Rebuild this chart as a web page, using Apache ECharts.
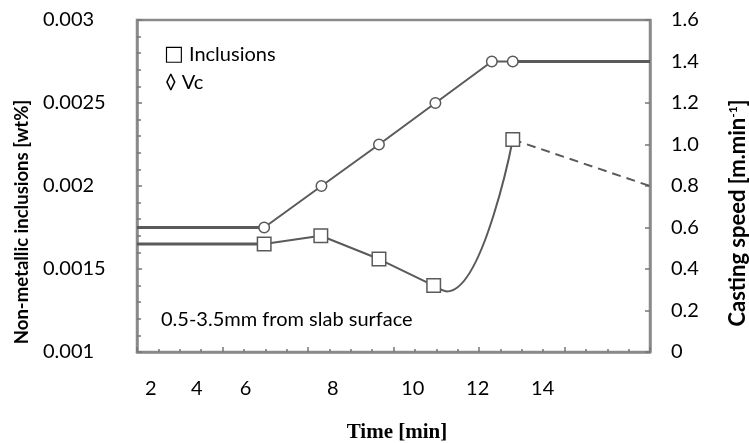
<!DOCTYPE html>
<html>
<head>
<meta charset="utf-8">
<script src="https://cdn.jsdelivr.net/npm/echarts@6/dist/echarts.min.js"></script>
<style>html,body{margin:0;padding:0;background:#fff;}#c{width:749px;height:443px;}</style>
</head>
<body>
<div id="c"></div>
<script>
// x positions are in axis units (one minor tick = 1 unit)
const xTickPos = [0.65, 2.8, 5.08, 9.16, 12.9, 15.94, 18.98];
const xTickLabels = ['2', '4', '6', '8', '10', '12', '14'];

const vcTime = [5.95, 8.63, 11.32, 13.96, 16.6, 17.58];
const vcValues = [0.6, 0.8, 1.0, 1.2, 1.4, 1.4];
const vcLeadIn = [[0, 0.6]];
const vcLeadOut = [[24, 1.4]];

const inclTime = [5.95, 8.6, 11.32, 13.88, 17.58];
const inclValues = [0.00165, 0.0017, 0.00156, 0.0014, 0.00228];
const inclLeadIn = [[0, 0.00165]];
const inclTrough = [[14.5, 0.001365]];
const inclDashedEnd = [[24, 0.002]];

const LINE = '#5a5a5a';
const AXIS = '#8a8a8a';
const FONT = 'Lato';

const inclPts = inclTime.map((t, i) => [t, inclValues[i]]);
const vcPts = vcTime.map((t, i) => [t, vcValues[i]]);

const chart = echarts.init(document.getElementById('c'));
chart.setOption({
  animation: false,
  backgroundColor: '#fff',
  grid: { left: 137, right: 99, top: 20, bottom: 91, show: true, borderColor: AXIS, borderWidth: 2.5 },
  xAxis: {
    type: 'value', min: 0, max: 24, interval: 4,
    axisLine: { show: true, lineStyle: { color: AXIS, width: 2.5 } },
    axisTick: { show: true, inside: true, length: 5, lineStyle: { color: '#777', width: 1.5 } },
    minorTick: { show: true, splitNumber: 4, length: 3, lineStyle: { color: '#777', width: 1.5 } },
    splitLine: { show: false },
    axisLabel: {
      show: true, customValues: xTickPos, margin: 27,
      fontFamily: FONT, fontSize: 20, color: '#000',
      formatter: function (v) {
        let best = 0;
        xTickPos.forEach((p, i) => { if (Math.abs(p - v) < Math.abs(xTickPos[best] - v)) best = i; });
        return xTickLabels[best];
      }
    }
  },
  yAxis: [
    {
      type: 'value', min: 0.001, max: 0.003, interval: 0.0005,
      axisLine: { show: true, lineStyle: { color: AXIS, width: 2.5 } },
      axisTick: { show: true, inside: true, length: 5, lineStyle: { color: '#777', width: 1.5 } },
      minorTick: { show: true, splitNumber: 5, length: 4, lineStyle: { color: '#777', width: 1.5 } },
      splitLine: { show: false },
      axisLabel: {
        align: 'left', margin: 94, fontFamily: FONT, fontSize: 20, color: '#000',
        formatter: v => String(parseFloat(v.toFixed(4)))
      }
    },
    {
      type: 'value', min: 0, max: 1.6, interval: 0.2, position: 'right',
      axisLine: { show: true, lineStyle: { color: AXIS, width: 2.5 } },
      axisTick: { show: true, inside: true, length: 5, lineStyle: { color: '#777', width: 1.5 } },
      splitLine: { show: false },
      axisLabel: {
        margin: 21, fontFamily: FONT, fontSize: 20, color: '#000',
        formatter: v => (v === 0 ? '0' : v.toFixed(1))
      }
    }
  ],
  series: [
    { type: 'line', yAxisIndex: 1, data: vcLeadIn.concat([vcPts[0]]), symbol: 'none',
      lineStyle: { color: LINE, width: 3 }, z: 2 },
    { type: 'line', yAxisIndex: 1, data: [vcPts[vcPts.length - 1]].concat(vcLeadOut), symbol: 'none',
      lineStyle: { color: LINE, width: 3 }, z: 2 },
    { name: 'Vc', type: 'line', yAxisIndex: 1, data: vcPts, symbol: 'circle', symbolSize: 10.5, showAllSymbol: true,
      lineStyle: { color: LINE, width: 2 }, itemStyle: { color: '#fff', borderColor: LINE, borderWidth: 1.5 }, z: 3 },
    { type: 'line', yAxisIndex: 0, data: inclLeadIn.concat([inclPts[0]]), symbol: 'none',
      lineStyle: { color: LINE, width: 3 }, z: 2 },
    { type: 'line', yAxisIndex: 0, data: [inclPts[3]].concat(inclTrough, [inclPts[4]]), symbol: 'none', smooth: 0.5,
      lineStyle: { color: LINE, width: 2 }, z: 2 },
    { type: 'line', yAxisIndex: 0, data: [inclPts[4]].concat(inclDashedEnd), symbol: 'none',
      lineStyle: { color: LINE, width: 2, type: [9, 6] }, z: 2 },
    { name: 'Inclusions', type: 'line', yAxisIndex: 0, data: inclPts.slice(0, 4), symbol: 'none',
      lineStyle: { color: LINE, width: 2 }, z: 2 },
    { type: 'scatter', yAxisIndex: 0, data: inclPts, symbol: 'rect', symbolSize: 13.5,
      itemStyle: { color: '#fff', borderColor: LINE, borderWidth: 1.5, opacity: 1 }, z: 4 }
  ],
  graphic: [
    { type: 'text', x: 164, y: 55, style: { text: '{b|□} Inclusions', font: '20px ' + FONT, fill: '#000', verticalAlign: 'middle',
        rich: { b: { font: '21px "DejaVu Sans"', fill: '#000' } } } },
    { type: 'text', x: 165, y: 83, style: { text: '◊ Vc', font: '20px ' + FONT + ', DejaVu Sans', fill: '#000', verticalAlign: 'middle' } },
    { type: 'text', x: 161, y: 320, style: { text: '0.5-3.5mm from slab surface', font: '20px ' + FONT, fill: '#000', verticalAlign: 'middle' } },
    { type: 'text', x: 22, y: 222, rotation: Math.PI / 2,
      style: { text: 'Non-metallic inclusions [wt%]', font: 'bold 18.5px ' + FONT, fill: '#000', align: 'center', verticalAlign: 'middle' } },
    { type: 'text', x: 738, y: 213, rotation: Math.PI / 2,
      style: { text: 'Casting speed [m.min{sup|-1}]', font: 'bold 22px ' + FONT, fill: '#000', align: 'center', verticalAlign: 'middle',
        rich: { sup: { font: 'bold 12px ' + FONT, fill: '#000', verticalAlign: 'top', padding: [0, 0, 9, 0] } } } },
    { type: 'text', x: 397, y: 433,
      style: { text: 'Time [min]', font: 'bold 21px "Liberation Serif"', fill: '#000', align: 'center', verticalAlign: 'middle' } }
  ]
});
</script>
</body>
</html>
